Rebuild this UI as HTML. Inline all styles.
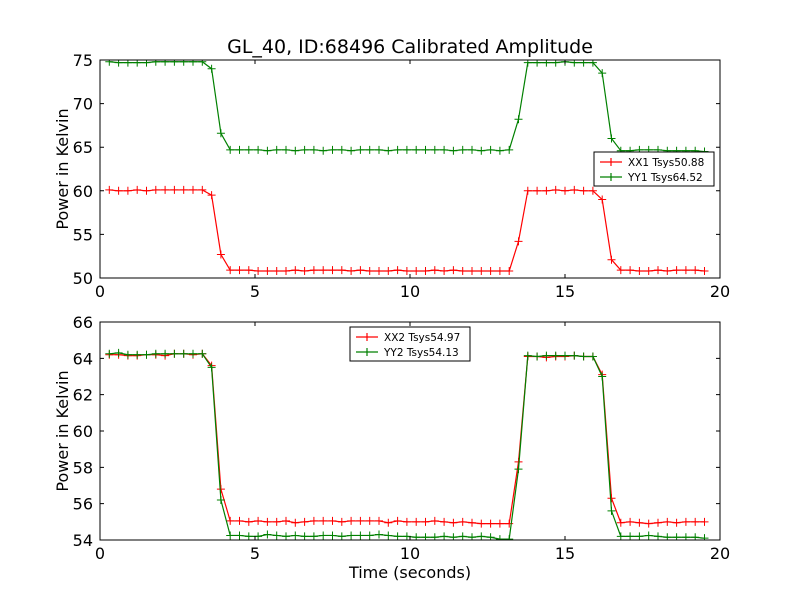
<!DOCTYPE html>
<html><head><meta charset="utf-8"><style>body{margin:0;background:#fff}svg{display:block;font-family:"DejaVu Sans","Liberation Sans",sans-serif}</style></head>
<body>
<svg id="c" width="800" height="600" xmlns="http://www.w3.org/2000/svg"></svg>
<script>
const times=[];for(let i=0;i<65;i++)times.push(+(0.3+0.3*i).toFixed(2));
const xx1=[60.1,60.0,60.0,60.1,60.0,60.1,60.1,60.1,60.1,60.1,60.1,59.5,52.7,50.9,50.9,50.9,50.8,50.8,50.8,50.8,50.9,50.8,50.9,50.9,50.9,50.9,50.8,50.9,50.8,50.8,50.8,50.9,50.8,50.8,50.8,50.9,50.8,50.9,50.8,50.8,50.8,50.8,50.8,50.8,54.2,60.0,60.0,60.0,60.1,60.0,60.1,60.0,60.0,59.0,52.1,50.9,50.9,50.8,50.8,50.9,50.8,50.9,50.9,50.9,50.8];
const yy1=[74.8,74.7,74.7,74.7,74.7,74.8,74.8,74.8,74.8,74.8,74.8,74.0,66.6,64.7,64.7,64.7,64.7,64.6,64.7,64.7,64.6,64.7,64.7,64.6,64.7,64.7,64.6,64.7,64.7,64.7,64.6,64.7,64.7,64.7,64.7,64.7,64.7,64.6,64.7,64.7,64.6,64.7,64.6,64.7,68.2,74.7,74.7,74.7,74.7,74.8,74.7,74.7,74.7,73.5,66.0,64.6,64.6,64.7,64.7,64.7,64.6,64.6,64.6,64.6,64.5];
const xx2=[64.2,64.2,64.15,64.15,64.2,64.2,64.15,64.25,64.25,64.2,64.25,63.6,56.8,55.05,55.05,55.0,55.05,55.0,55.0,55.05,54.95,55.0,55.05,55.05,55.05,55.0,55.05,55.05,55.05,55.05,54.95,55.05,55.0,55.0,55.0,55.05,55.0,54.95,55.0,54.95,54.9,54.9,54.9,54.9,58.3,64.1,64.1,64.05,64.1,64.1,64.15,64.1,64.1,63.1,56.3,54.95,55.0,54.95,54.9,54.95,55.0,54.95,55.0,55.0,55.0];
const yy2=[64.25,64.3,64.2,64.2,64.2,64.25,64.25,64.25,64.25,64.25,64.25,63.5,56.2,54.25,54.25,54.2,54.2,54.3,54.25,54.2,54.25,54.2,54.2,54.25,54.25,54.2,54.25,54.25,54.25,54.3,54.25,54.2,54.2,54.15,54.15,54.15,54.2,54.15,54.2,54.15,54.2,54.15,54.05,54.05,57.9,64.15,64.1,64.15,64.15,64.15,64.15,64.1,64.1,63.0,55.6,54.2,54.2,54.2,54.25,54.2,54.15,54.15,54.15,54.15,54.1];
const xTicks=[0,5,10,15,20];
const yTicks1=[50,55,60,65,70,75];
const yTicks2=[54,56,58,60,62,64,66];
const svg=document.getElementById('c');const NS='http://www.w3.org/2000/svg';
function mk(t,a,p){const e=document.createElementNS(NS,t);for(const k in a)e.setAttribute(k,a[k]);(p||svg).appendChild(e);return e;}
function panel(top,ymin,ymax,yt,series,name){
  const L=100,R=720,T=top,B=top+218;
  const xs=v=>L+(v-0)/(20-0)*(R-L);
  const ys=v=>B-(v-ymin)/(ymax-ymin)*(B-T);
  const g=mk('g',{});
  
  
  mk('rect',{x:L,y:T,width:R-L,height:B-T,fill:'#fff',stroke:'none'},g);
  const cp='cp'+top;const cl=mk('clipPath',{id:cp},g);mk('rect',{x:L,y:T,width:R-L,height:B-T},cl);
  series.forEach(s=>{
    const sg=mk('g',{'clip-path':'url(#'+cp+')'},g);
    
    
    mk('polyline',{points:times.map((t,i)=>xs(t)+','+ys(s.v[i])).join(' '),fill:'none',stroke:s.c,'stroke-width':1.2},sg);
    times.forEach((t,i)=>{const x=xs(t),y=ys(s.v[i]);mk('path',{d:`M${x-4} ${y}H${x+4}M${x} ${y-4}V${y+4}`,stroke:s.c,'stroke-width':1},sg);});
  });
  xTicks.forEach(v=>{const x=xs(v);mk('path',{d:`M${x} ${B}v-4M${x} ${T}v4`,stroke:'#000'},g);
    const tx=mk('text',{x:x,y:B+19,'text-anchor':'middle','font-size':16},g);tx.textContent=v;
    
    });
  yt.forEach(v=>{const y=ys(v);mk('path',{d:`M${L} ${y}h4M${R} ${y}h-4`,stroke:'#000'},g);
    const tx=mk('text',{x:L-7,y:y+6,'text-anchor':'end','font-size':16},g);tx.textContent=v;
    
    });
  mk('rect',{x:L,y:T,width:R-L,height:B-T,fill:'none',stroke:'#000','stroke-width':1},g);
  const yl=mk('text',{x:0,y:0,transform:`translate(68 ${(T+B)/2}) rotate(-90)`,'text-anchor':'middle','font-size':16},g);yl.textContent='Power in Kelvin';
  
  
}
function legend(x,y,w,items,name){
  const g=mk('g',{});
  
  
  mk('rect',{x:x,y:y,width:w,height:34,fill:'#fff',stroke:'#000','stroke-width':1},g);
  items.forEach((it,i)=>{const yy=y+10+i*15;
    mk('path',{d:`M${x+6} ${yy}h22M${x+17} ${yy-4}v8`,stroke:it.c,'stroke-width':1.2},g);
    const t=mk('text',{x:x+34,y:yy+4,'font-size':10.5},g);t.textContent=it.t;
    
    });
}
const title=mk('text',{x:410,y:53,'text-anchor':'middle','font-size':19});title.textContent='GL_40, ID:68496 Calibrated Amplitude';


panel(60,50,75,yTicks1,[{name:'xx1-line',v:xx1,c:'#ff0000'},{name:'yy1-line',v:yy1,c:'#008000'}],'top-panel');
panel(322,54,66,yTicks2,[{name:'xx2-line',v:xx2,c:'#ff0000'},{name:'yy2-line',v:yy2,c:'#008000'}],'bottom-panel');
legend(594,152,120,[{c:'#ff0000',t:'XX1 Tsys50.88'},{c:'#008000',t:'YY1 Tsys64.52'}],'top-legend');
legend(350,327,120,[{c:'#ff0000',t:'XX2 Tsys54.97'},{c:'#008000',t:'YY2 Tsys54.13'}],'bottom-legend');
const xl=mk('text',{x:410,y:578,'text-anchor':'middle','font-size':16});xl.textContent='Time (seconds)';


</script>
</body></html>
